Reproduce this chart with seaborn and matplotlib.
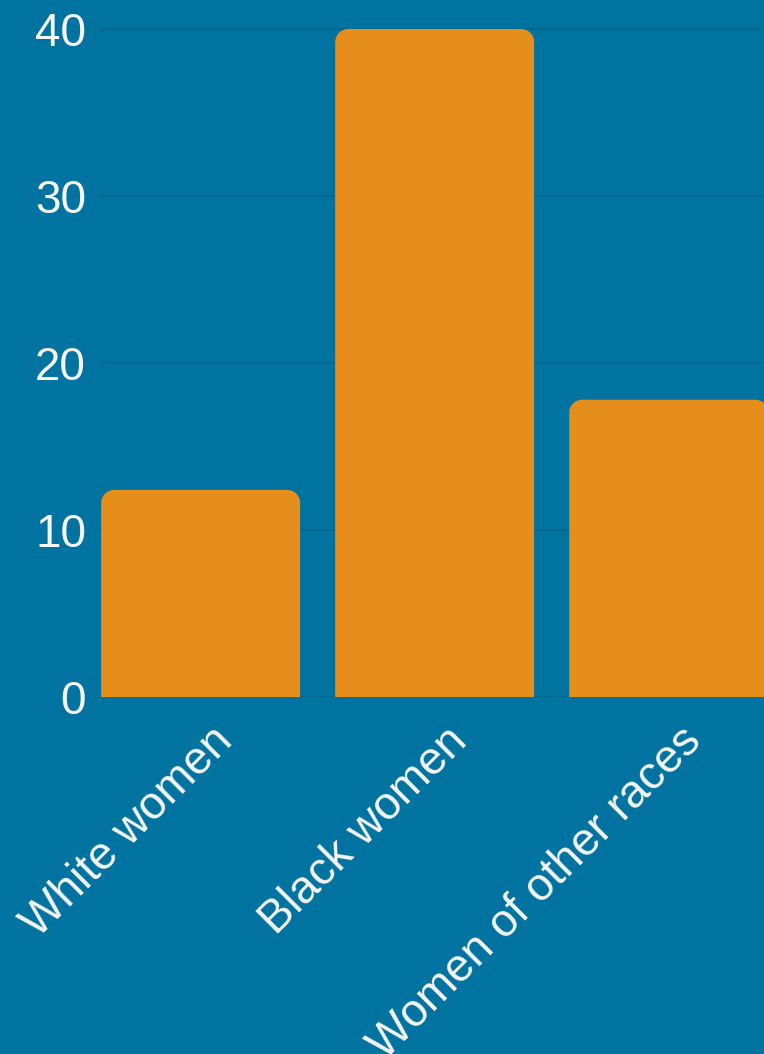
import numpy as np
import pandas as pd
import matplotlib
matplotlib.use("Agg")
import matplotlib.pyplot as plt
from matplotlib.path import Path
from matplotlib.patches import PathPatch
from matplotlib.transforms import ScaledTranslation
import seaborn as sns

categories = ["White women", "Black women", "Women of other races"]
values = [12.4, 40.0, 17.8]
yticks = [0, 10, 20, 30, 40]

BG = "#0173A0"
GRID = "#016890"
BAR = "#E58E1B"
TXT = "#F4F6F8"

sns.set_theme(style="white")
plt.rcParams["font.family"] = ["Liberation Sans", "DejaVu Sans"]

W, H = 764, 1054
fig = plt.figure(figsize=(W / 100, H / 100), dpi=100)
fig.patch.set_facecolor(BG)

ax_left, ax_right, ax_top, ax_bottom = 100, 774, 0, 697
ax = fig.add_axes([ax_left / W, 1 - ax_bottom / H, (ax_right - ax_left) / W, (ax_bottom - ax_top) / H])
ax.set_facecolor(BG)

df = pd.DataFrame({"group": categories, "value": values})
sns.barplot(data=df, x="group", y="value", color=BAR, width=0.85, saturation=1, ax=ax, zorder=2)

ax.set_xlim(-0.43, 2.45)
ax.set_ylim(0, 40 * 697 / 668)
ax.set_yticks(yticks)
ax.yaxis.grid(True, color=GRID, linewidth=1.5, zorder=0)
ax.set_axisbelow(True)
for s in ax.spines.values():
    s.set_visible(False)
ax.set_xlabel("")
ax.set_ylabel("")

# rounded top corners
fig.canvas.draw()
x0, x1 = ax.get_xlim()
y0, y1 = ax.get_ylim()
px_per_x = (ax_right - ax_left) / (x1 - x0)
px_per_y = (ax_bottom - ax_top) / (y1 - y0)
r_px = 13
rx, ry = r_px / px_per_x, r_px / px_per_y
for p in list(ax.patches):
    bx, bw, bh = p.get_x(), p.get_width(), p.get_height()
    p.set_visible(False)
    pts = [(bx, 0), (bx + bw, 0), (bx + bw, bh - ry)]
    for t in np.linspace(0, np.pi / 2, 20):
        pts.append((bx + bw - rx + rx * np.cos(t), bh - ry + ry * np.sin(t)))
    for t in np.linspace(np.pi / 2, np.pi, 20):
        pts.append((bx + rx + rx * np.cos(t), bh - ry + ry * np.sin(t)))
    pts.append((bx, 0))
    codes = [Path.MOVETO] + [Path.LINETO] * (len(pts) - 2) + [Path.CLOSEPOLY]
    ax.add_patch(PathPatch(Path(pts, codes), facecolor=BAR, edgecolor="none", zorder=2))

ax.tick_params(axis="y", length=0, pad=10, labelsize=33, labelcolor=TXT)
ax.tick_params(axis="x", length=0, pad=4, labelsize=33, labelcolor=TXT)
offset = ScaledTranslation(10 / 100, -16 / 100, fig.dpi_scale_trans)
for lab in ax.get_xticklabels():
    lab.set_rotation(45)
    lab.set_ha("right")
    lab.set_va("top")
    lab.set_rotation_mode("anchor")
    lab.set_transform(lab.get_transform() + offset)

fig.savefig("out.png", dpi=100, facecolor=BG)
